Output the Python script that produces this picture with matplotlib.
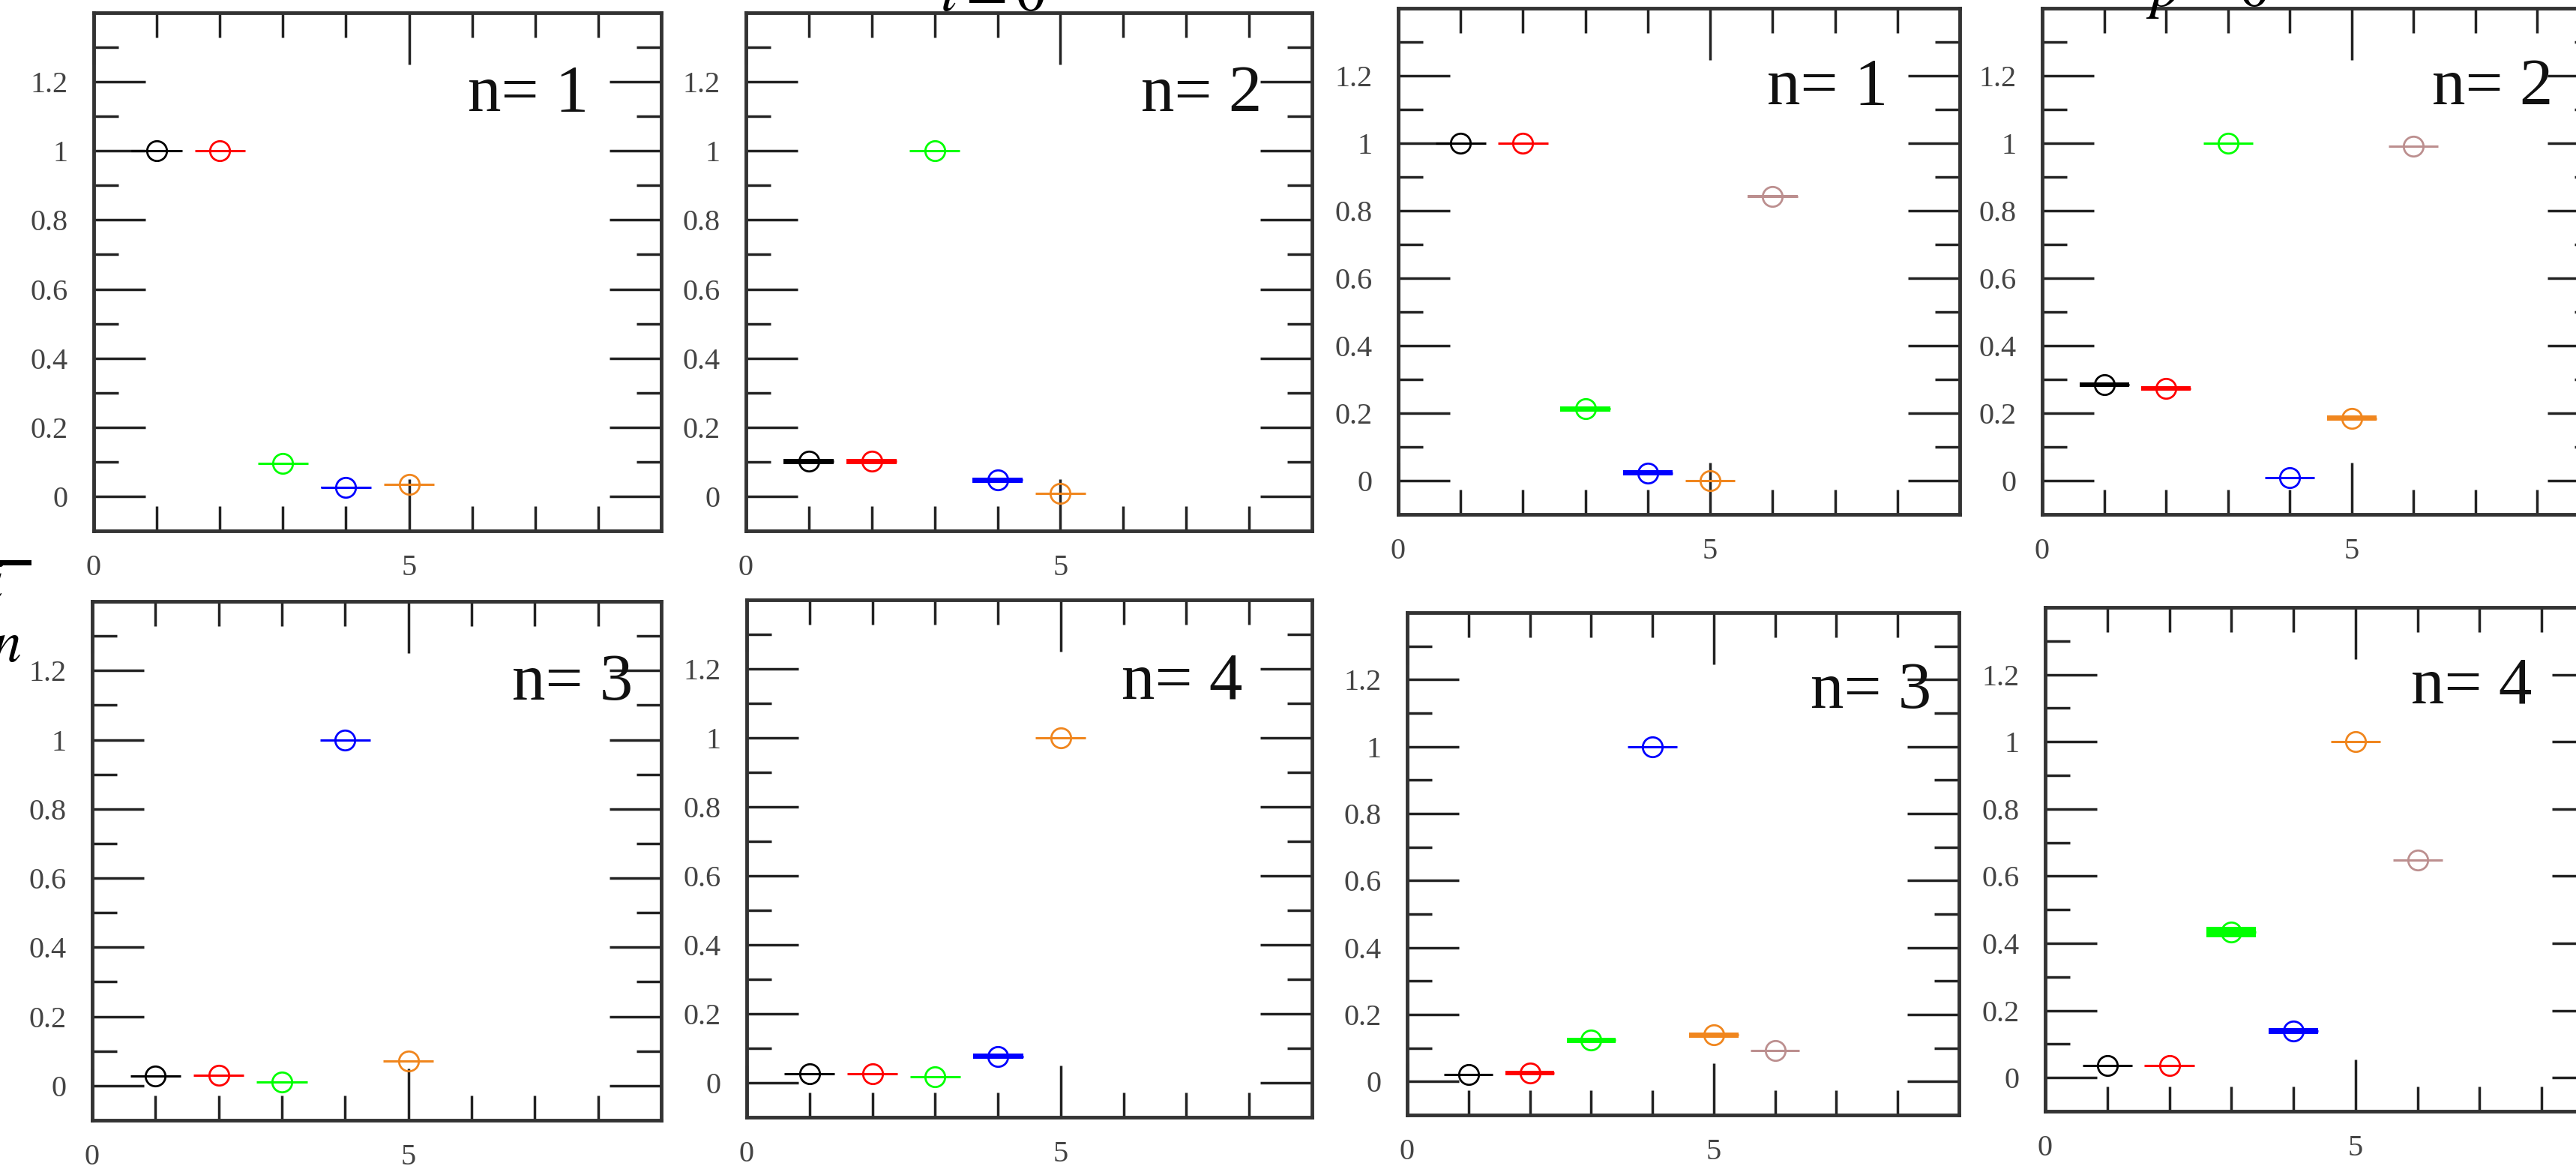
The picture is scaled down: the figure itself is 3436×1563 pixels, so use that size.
import numpy as np
import matplotlib.pyplot as plt
from matplotlib.lines import Line2D

W, H = 3437, 1563
plt.rcParams['font.family'] = ['Liberation Serif', 'DejaVu Serif']
plt.rcParams['mathtext.fontset'] = 'stix'

colors = ['black', 'red', '#00ff00', 'blue', '#f0861e', '#bc8f8f']

states_left = [1, 2, 3, 4, 5]
states_right = [1, 2, 3, 4, 5, 6]

# overlap values; *_err is the small vertical spread
left_n1 = [1.0, 1.0, 0.095, 0.026, 0.035]
left_n1_err = [0, 0, 0, 0.003, 0]
left_n2 = [0.101, 0.101, 1.0, 0.047, 0.008]
left_n2_err = [0.007, 0.007, 0, 0.007, 0]
left_n3 = [0.027, 0.030, 0.010, 1.0, 0.071]
left_n3_err = [0, 0, 0, 0, 0]
left_n4 = [0.027, 0.027, 0.018, 0.077, 1.0]
left_n4_err = [0, 0, 0, 0.008, 0]

right_n1 = [1.0, 1.0, 0.213, 0.023, 0.0, 0.842]
right_n1_err = [0, 0, 0.008, 0.008, 0, 0.005]
right_n2 = [0.285, 0.274, 1.0, 0.010, 0.185, 0.991]
right_n2_err = [0.007, 0.007, 0, 0, 0.008, 0]
right_n3 = [0.021, 0.025, 0.123, 1.0, 0.139, 0.092]
right_n3_err = [0, 0.007, 0.008, 0, 0.008, 0]
right_n4 = [0.037, 0.037, 0.433, 0.139, 1.0, 0.647]
right_n4_err = [0, 0, 0.016, 0.008, 0, 0]

# (left, top, right, bottom) in pixels, label x position, states, values, errs, n
panels = [
    ((125, 17, 882, 708), 7.85, states_left, left_n1, left_n1_err, 1),
    ((995, 17, 1750, 708), 8.2, states_left, left_n2, left_n2_err, 2),
    ((1865, 11, 2614, 686), 7.85, states_right, right_n1, right_n1_err, 1),
    ((2724, 11, 3467, 686), 8.25, states_right, right_n2, right_n2_err, 2),
    ((123, 802, 882, 1494), 8.55, states_left, left_n3, left_n3_err, 3),
    ((996, 800, 1750, 1490), 7.9, states_left, left_n4, left_n4_err, 4),
    ((1877, 817, 2613, 1487), 8.55, states_right, right_n3, right_n3_err, 3),
    ((2728, 810, 3473, 1482), 7.85, states_right, right_n4, right_n4_err, 4),
]

fig = plt.figure(figsize=(W / 100, H / 100), dpi=100)

for (l, t, r, b), lx, xs, ys, errs, n in panels:
    ax = fig.add_axes([l / W, 1 - b / H, (r - l) / W, (b - t) / H])
    ax.set_xlim(0, 9)
    ax.set_ylim(-0.1, 1.4)
    for i, (x, y, dy) in enumerate(zip(xs, ys, errs)):
        c = colors[i]
        if dy > 0:
            ax.bar(x, 2 * dy, bottom=y - dy, width=0.8, color=c, lw=0, zorder=3)
        ax.errorbar(x, y, xerr=0.4, fmt='o', ms=19, mfc='none', mec=c, mew=2,
                    ecolor=c, elinewidth=2.2, capsize=0, zorder=4)
    ax.set_xticks([0, 5])
    ax.set_xticks([1, 2, 3, 4, 6, 7, 8], minor=True)
    ax.set_yticks(np.arange(0, 1.21, 0.2))
    ax.set_yticks(np.arange(0.1, 1.31, 0.2), minor=True)
    ax.set_yticklabels(['%g' % v for v in np.round(np.arange(0, 1.21, 0.2), 1)])
    ax.tick_params(which='both', direction='in', top=True, right=True,
                   color='#222222', labelsize=29, labelcolor='#444444')
    ax.tick_params(which='major', length=50, width=2.5)
    ax.tick_params(which='minor', length=24, width=2.5)
    ax.tick_params(axis='y', pad=25)
    ax.tick_params(axis='x', pad=22)
    for s in ax.spines.values():
        s.set_linewidth(3.5)
        s.set_color('#333333')
    ax.text(lx, 1.115, 'n= %d' % n, fontsize=64, ha='right', va='baseline',
            color='#111111')

# titles of the two figures, cut at the top edge
fig.text(1325 / W, 1 - 14 / H, r'$l=0$', fontsize=58, ha='center', va='baseline')
fig.text(2945 / W, 1 - 8 / H, r'$p=0$', fontsize=58, ha='center', va='baseline')

# y label fragment at the left edge
fig.add_artist(Line2D([0, 38 / W], [1 - 750 / H, 1 - 750 / H], color='black',
                      lw=5, transform=fig.transFigure))
fig.text(6 / W, 1 - 800 / H, r'$i$', fontsize=56, ha='right', va='baseline')
fig.text(28 / W, 1 - 882 / H, r'$n$', fontsize=56, ha='right', va='baseline')

fig.savefig('out.png', dpi=100)
